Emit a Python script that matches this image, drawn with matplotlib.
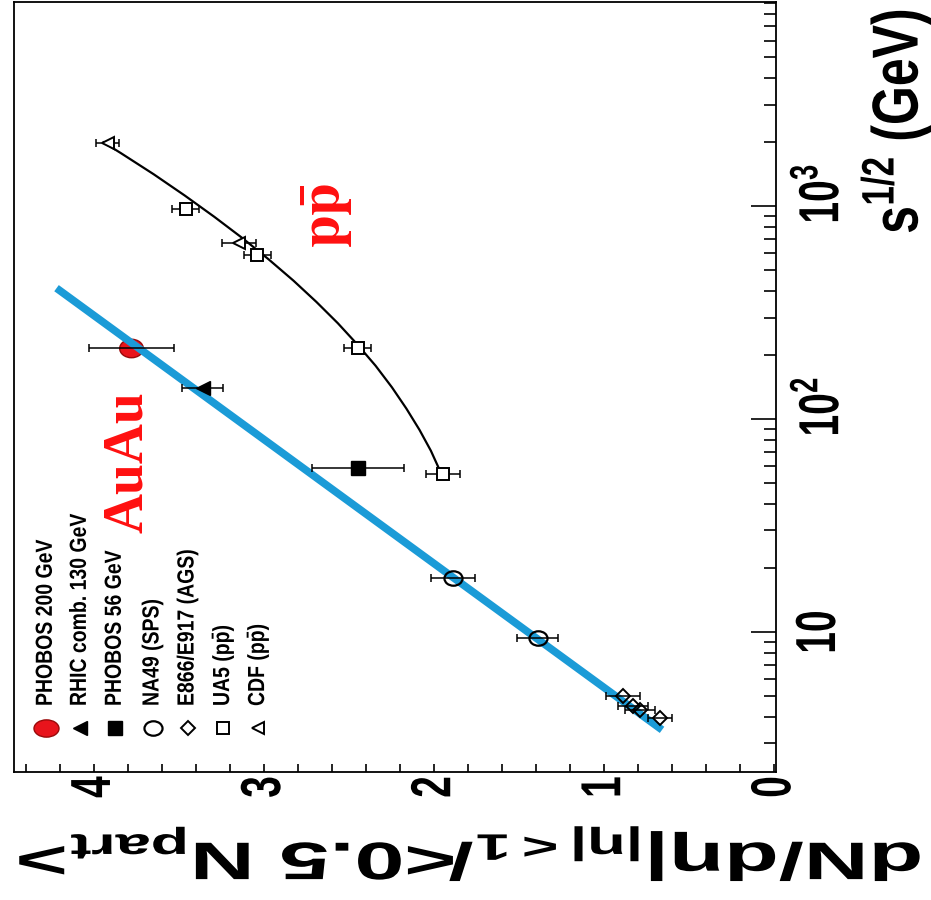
import matplotlib
matplotlib.use('Agg')
import matplotlib.pyplot as plt
from matplotlib.ticker import FixedLocator, FixedFormatter, MultipleLocator
from matplotlib.patheffects import AbstractPathEffect
from matplotlib.transforms import Affine2D, ScaledTranslation
from matplotlib.path import Path

plt.rcParams['font.family'] = ['Liberation Sans', 'DejaVu Sans']
plt.rcParams['font.weight'] = 'bold'
plt.rcParams['mathtext.fontset'] = 'custom'
plt.rcParams['mathtext.rm'] = 'Liberation Sans:bold'
plt.rcParams['mathtext.it'] = 'Liberation Sans:bold'
plt.rcParams['mathtext.bf'] = 'Liberation Sans:bold'
plt.rcParams['mathtext.default'] = 'rm'

# sqrt(s) in GeV, dN/deta per participant pair, error
phobos200_s = [215]
phobos200_dn = [3.78]
phobos200_err = [0.25]

rhic130_s = [140]
rhic130_dn = [3.36]
rhic130_err = [0.12]

phobos56_s = [59]
phobos56_dn = [2.45]
phobos56_err = [0.27]

na49_s = [9.4, 18.0]
na49_dn = [1.39, 1.89]
na49_err = [0.12, 0.13]

ags_s = [5.0, 4.5, 4.3, 3.95]
ags_dn = [0.89, 0.83, 0.79, 0.67]
ags_err = [0.10, 0.09, 0.09, 0.07]

ua5_s = [55, 215, 590, 975]
ua5_dn = [1.95, 2.45, 3.04, 3.46]
ua5_err = [0.10, 0.08, 0.08, 0.08]

cdf_s = [675, 1980]
cdf_dn = [3.15, 3.92]
cdf_err = [0.10, 0.07]

# pp-bar fit curve
ppfit_s = [55, 71, 89, 112, 141, 178, 224, 282, 355, 447, 562, 708, 891,
           1122, 1413, 1778, 1995]
ppfit_dn = [1.956, 2.019, 2.086, 2.163, 2.248, 2.344, 2.451, 2.566, 2.692,
            2.827, 2.972, 3.127, 3.292, 3.466, 3.649, 3.843, 3.944]

# AuAu logarithmic trend
auau_s = [3.47, 412]
auau_dn = [0.66, 4.22]


class Widen(AbstractPathEffect):
    """Stretch a text path about its own centre, in screen space."""

    def __init__(self, sx=1.0, sy=1.0):
        super().__init__()
        self.sx, self.sy = sx, sy

    def draw_path(self, renderer, gc, tpath, affine, rgbFace=None):
        ext = tpath.get_extents(affine)
        cx, cy = (ext.x0 + ext.x1) / 2, (ext.y0 + ext.y1) / 2
        st = Affine2D().translate(-cx, -cy).scale(self.sx, self.sy).translate(cx, cy)
        renderer.draw_path(gc, tpath, affine + st, rgbFace)


def oval(r):
    return Path.unit_circle().transformed(Affine2D().scale(r, 1.0))


fig = plt.figure(figsize=(9.31, 9.0), dpi=100)
ax = fig.add_axes([14/931, 1-772/900, 762/931, 770/900])
ax.set_yscale('log')
ax.set_ylim(2.2, 9100)
ax.set_xlim(4.47, -0.01)

ax.plot(auau_dn, auau_s, color='#1b9bd7', lw=5.5, solid_capstyle='butt', zorder=3)
ax.plot(ppfit_dn, ppfit_s, color='black', lw=1.6, zorder=2)

series = [
    (phobos200_dn, phobos200_s, phobos200_err, dict(marker=oval(1.28), ms=17, mfc='#e8141c', mec='#9a0a0a', mew=1)),
    (rhic130_dn, rhic130_s, rhic130_err, dict(marker='<', ms=10, mfc='black', mec='black')),
    (phobos56_dn, phobos56_s, phobos56_err, dict(marker='s', ms=10, mfc='black', mec='black')),
    (na49_dn, na49_s, na49_err, dict(marker=oval(1.25), ms=13, mfc='none', mec='black', mew=1.6)),
    (ags_dn, ags_s, ags_err, dict(marker='D', ms=7, mfc='none', mec='black', mew=1.4)),
    (ua5_dn, ua5_s, ua5_err, dict(marker='s', ms=9, mfc='white', mec='black', mew=1.4)),
    (cdf_dn, cdf_s, cdf_err, dict(marker='<', ms=9, mfc='white', mec='black', mew=1.4)),
]
for i, (dn, s, err, style) in enumerate(series):
    ax.errorbar(dn, s, xerr=err, fmt='none', ecolor='black', elinewidth=1.1,
                capsize=3, capthick=1.1, zorder=4)
    ax.plot(dn, s, ls='none', zorder=2 if i == 0 else 5, **style)

# legend, written along the rotated frame
labels = ['PHOBOS 200 GeV', 'RHIC comb. 130 GeV', 'PHOBOS 56 GeV', 'NA49 (SPS)',
          'E866/E917 (AGS)', r'UA5 (p$\bar{\rm p}$)', r'CDF (p$\bar{\rm p}$)']
leg_x = [46, 80, 115, 153, 188, 223, 258]
for i, ((dn, s, err, style), lab, px) in enumerate(zip(series, labels, leg_x)):
    xf = (px - 14) / 762
    st = dict(style)
    if i == 0:
        st['marker'] = oval(1.45)
        st['ms'] = 18
    ax.plot([xf], [(772 - 728) / 770], transform=ax.transAxes, ls='none',
            clip_on=False, zorder=6, **st)
    ax.text(xf, (772 - 706) / 770, lab, transform=ax.transAxes, rotation=90,
            rotation_mode='anchor', ha='left', va='center', fontsize=14,
            fontweight='bold', path_effects=[Widen(1.2)])

ax.text(0.150, 0.403, 'AuAu', transform=ax.transAxes, rotation=90,
        ha='center', va='center', color='#ff1010', fontsize=40,
        family='Liberation Serif', fontweight='bold')
ax.text(0.411, 0.723, r'$\mathbf{p\bar{p}}$', transform=ax.transAxes, rotation=90,
        ha='center', va='center', color='#ff1010', fontsize=42,
        math_fontfamily='stix')

# axes, ticks and labels
ax.yaxis.tick_right()
ax.yaxis.set_major_locator(FixedLocator([10, 100, 1000]))
ax.yaxis.set_major_formatter(FixedFormatter(['10', r'$10^2$', r'$10^3$']))
ax.tick_params(axis='y', which='major', direction='in', length=18, width=1.2,
               labelsize=28, pad=18, labelrotation=90, left=False, right=True)
ax.tick_params(axis='y', which='minor', direction='in', length=9, width=1.2,
               left=False, right=True)

ax.xaxis.set_major_locator(MultipleLocator(1))
ax.xaxis.set_minor_locator(MultipleLocator(0.2))
ax.tick_params(axis='x', which='both', direction='in', length=6, width=1.2,
               top=False, bottom=True)
ax.tick_params(axis='x', which='major', labelsize=28, pad=3, labelrotation=90)

for sp in ax.spines.values():
    sp.set_linewidth(1.3)

ax.yaxis.set_label_position('right')
ax.set_ylabel(r's$^{1/2}$ (GeV)', fontsize=36, fontweight='bold',
              path_effects=[Widen(1.3)])
ax.yaxis.label.set(rotation=90, rotation_mode='anchor', ha='center', va='center')
ax.yaxis.set_label_coords(1.157, 0.845)

ax.set_xlabel(r'dN/d$\eta$|$_{|\eta|<1}$/<0.5 N$_{part}$>', fontsize=38,
              fontweight='bold', path_effects=[Widen(1.7)])
ax.xaxis.label.set(rotation=180, rotation_mode='anchor', ha='center', va='center')
ax.xaxis.set_label_coords(0.598, -0.106)

# keep the "10" of each power label centred on its tick
lift = ScaledTranslation(0, 9 / 72, fig.dpi_scale_trans)
for t in ax.get_yticklabels():
    t.set_va('center')
    t.set_path_effects([Widen(1.45)])
    if '^' in t.get_text():
        t.set_transform(t.get_transform() + lift)
for t in ax.get_xticklabels():
    t.set_path_effects([Widen(1.45)])

fig.savefig('out.png', dpi=100)
